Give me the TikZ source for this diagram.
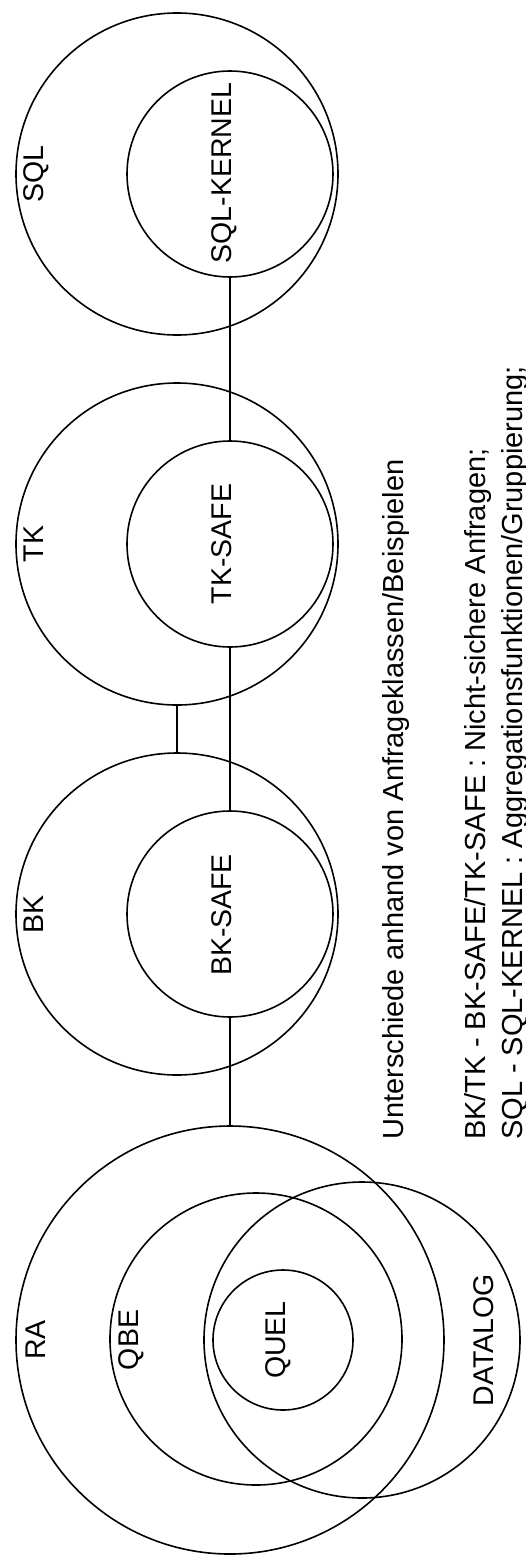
\documentclass[tikz,border=0pt]{standalone}
\usepackage{fontspec}
\setmainfont{Liberation Sans}
\begin{document}
\begin{tikzpicture}[x=1pt,y=-1pt,
  ring/.style={draw,circle,line width=1.6pt,inner sep=0pt,minimum size=#1},
  lbl/.style={rotate=90,inner sep=0pt,text height=0.72em,text depth=0pt,font=\fontsize{28.5}{34}\selectfont},
  legend/.style={rotate=90,inner sep=0pt,anchor=base west,font=\fontsize{29}{34}\selectfont},
  conn/.style={line width=1.6pt}]
\useasboundingbox (0,0) rectangle (525,1563);
% circles
\node[ring=322pt] (sql) at (177,174) {};
\node[ring=206pt] (sqlk) at (230,174) {};
\node[ring=322pt] (tk) at (177,544) {};
\node[ring=206pt] (tks) at (230,544) {};
\node[ring=322pt] (bk) at (177,914) {};
\node[ring=206pt] (bks) at (230,914) {};
\node[ring=428pt] (ra) at (230,1340) {};
\node[ring=292pt] (qbe) at (256,1339) {};
\node[ring=140pt] (quel) at (283,1340) {};
\node[ring=316pt] (datalog) at (362,1340) {};
% labels
\node[lbl] (lsql) at (40,174) {SQL};
\node[lbl] (lsqlk) at (228,173) {SQL-KERNEL};
\node[lbl] (ltk) at (40,544) {TK};
\node[lbl] (ltks) at (228,544) {TK-SAFE};
\node[lbl] (lbk) at (40,914) {BK};
\node[lbl] (lbks) at (228,915) {BK-SAFE};
\node[lbl] (lra) at (42,1340) {RA};
\node[lbl] (lqbe) at (135,1340) {QBE};
\node[lbl] (lquel) at (282,1340) {QUEL};
\node[lbl] (ldatalog) at (490,1340) {DATALOG};
% connectors
\draw[conn] (sqlk.south) -- (tks.north);
\draw[conn] (tks.south) -- (bks.north);
\draw[conn] (tk.south) -- (bk.north);
\draw[conn] (bks.south) -- (ra.north);
% legend
\node[legend] (t1) at (403,1140) {Unterschiede anhand von Anfrageklassen/Beispielen};
\node[legend] (t2) at (485,1140) {BK/TK - BK-SAFE/TK-SAFE : Nicht-sichere Anfragen;};
\node[legend] (t3) at (522,1140) {SQL - SQL-KERNEL : Aggregationsfunktionen/Gruppierung;};
\end{tikzpicture}
\end{document}
